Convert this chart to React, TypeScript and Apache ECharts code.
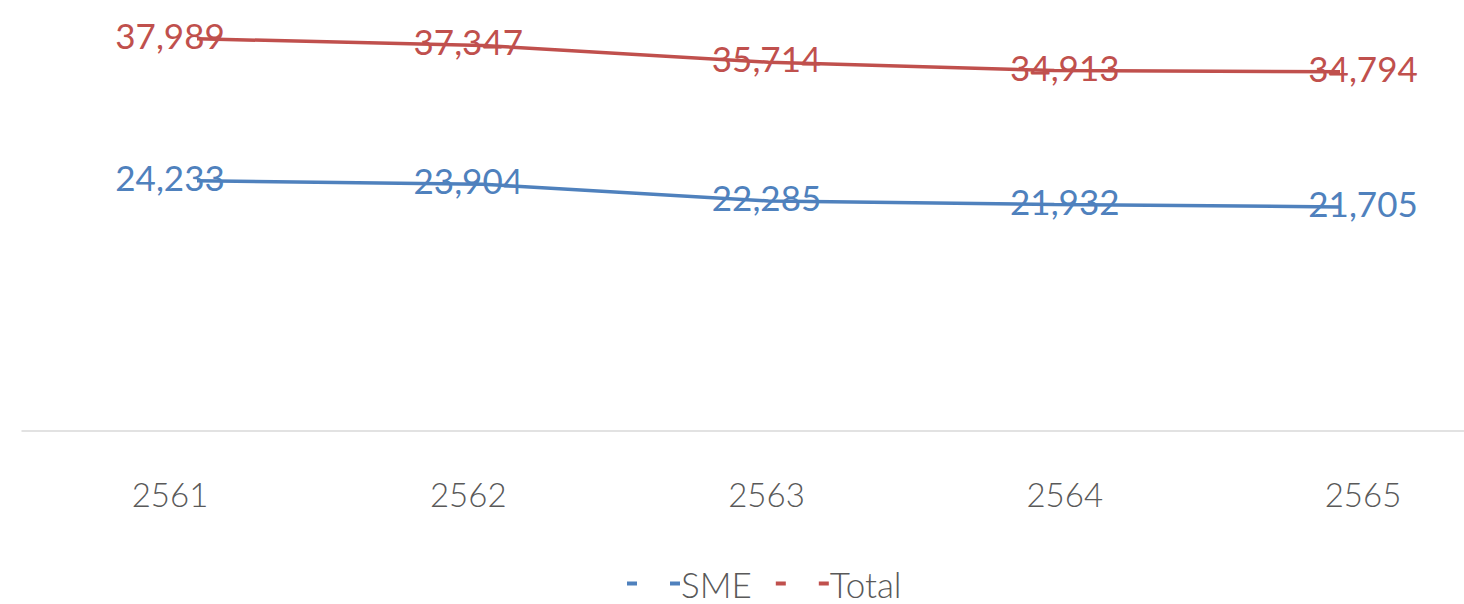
import React, { useEffect, useRef } from "react";
import * as echarts from "echarts";

const categories = ["2561", "2562", "2563", "2564", "2565"];
const smeValues = [24233, 23904, 22285, 21932, 21705];
const totalValues = [37989, 37347, 35714, 34913, 34794];

const BLUE = "#4F81BD";
const RED = "#C0504D";
const FONT = "Lato, 'Noto Sans', sans-serif";

export default function App() {
  const ref = useRef<HTMLDivElement>(null);
  useEffect(() => {
    document.body.style.margin = "0";
    if (!ref.current) return;
    const chart = echarts.init(ref.current, null, { renderer: "svg" });
    const labelCfg = (color: string) => ({
      show: true,
      position: "inside" as const,
      offset: [0, -4],
      color,
      fontSize: 35,
      fontFamily: FONT,
      formatter: (p: any) => Number(p.value).toLocaleString("en-US"),
    });
    chart.setOption({
      animation: false,
      backgroundColor: "#ffffff",
      grid: [
        { left: 170, top: 18, right: 101, bottom: 173 },
        { left: 197, top: 18, right: 124, bottom: 173 },
        { left: 22, top: 18, right: 0, bottom: 173 },
      ],
      xAxis: [
        {
          type: "category",
          gridIndex: 0,
          data: categories,
          boundaryGap: false,
          axisLine: { show: false },
          axisTick: { show: false },
          axisLabel: { color: "#595959", fontSize: 33, fontWeight: 300, fontFamily: FONT, margin: 46 },
        },
        {
          type: "category",
          gridIndex: 1,
          data: categories,
          boundaryGap: false,
          show: false,
        },
        {
          type: "category",
          gridIndex: 2,
          data: categories,
          boundaryGap: true,
          axisLine: { show: true, lineStyle: { color: "#d9d9d9", width: 1.5 } },
          axisTick: { show: false },
          axisLabel: { show: false },
        },
      ],
      yAxis: [
        { type: "value", gridIndex: 0, min: 0, max: 40000, show: false, splitLine: { show: false } },
        { type: "value", gridIndex: 1, min: 0, max: 40000, show: false, splitLine: { show: false } },
        { type: "value", gridIndex: 2, min: 0, max: 40000, show: false, splitLine: { show: false } },
      ],
      legend: {
        data: ["SME", "Total"],
        left: 627,
        top: 566,
        padding: 0,
        itemGap: 24,
        itemWidth: 53,
        itemHeight: 4,
        icon: "path://M0,0h10v4h-10z M43,0h10v4h-10z",
        textStyle: { color: "#595959", fontSize: 35, fontWeight: 300, fontFamily: FONT, padding: [0, 0, 0, -4] },
      },
      series: [
        {
          name: "SME",
          type: "line",
          xAxisIndex: 1,
          yAxisIndex: 1,
          data: smeValues,
          showSymbol: false,
          symbol: "none",
          color: BLUE,
          lineStyle: { color: BLUE, width: 3.5 },
        },
        {
          name: "Total",
          type: "line",
          xAxisIndex: 1,
          yAxisIndex: 1,
          data: totalValues,
          showSymbol: false,
          symbol: "none",
          color: RED,
          lineStyle: { color: RED, width: 3.5 },
        },
        {
          name: "SME labels",
          type: "line",
          xAxisIndex: 0,
          yAxisIndex: 0,
          data: smeValues,
          symbol: "circle",
          symbolSize: 1,
          itemStyle: { color: "rgba(0,0,0,0)" },
          lineStyle: { opacity: 0 },
          label: labelCfg(BLUE),
          silent: true,
        },
        {
          name: "Total labels",
          type: "line",
          xAxisIndex: 0,
          yAxisIndex: 0,
          data: totalValues,
          symbol: "circle",
          symbolSize: 1,
          itemStyle: { color: "rgba(0,0,0,0)" },
          lineStyle: { opacity: 0 },
          label: labelCfg(RED),
          silent: true,
        },
      ],
    });
    return () => chart.dispose();
  }, []);
  return <div ref={ref} style={{ width: 1464, height: 604 }} />;
}
